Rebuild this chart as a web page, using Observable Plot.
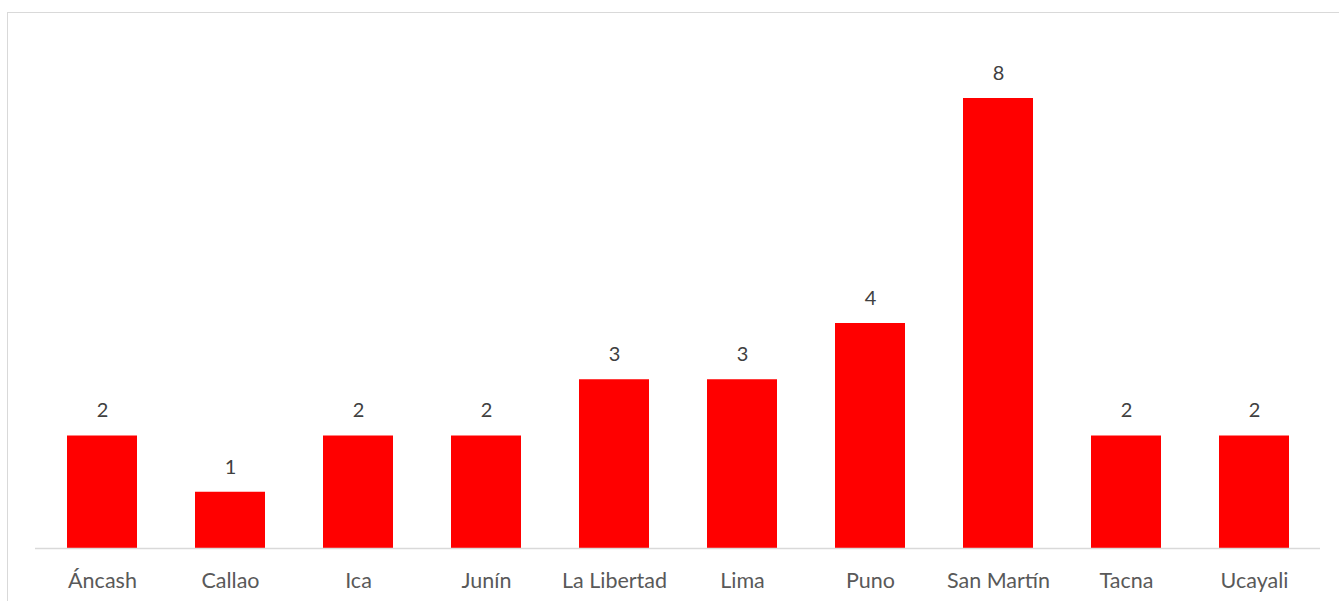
<!DOCTYPE html>
<html>
<head>
<meta charset="utf-8">
<script src="https://cdn.jsdelivr.net/npm/d3@7"></script>
<script src="https://cdn.jsdelivr.net/npm/@observablehq/plot@0.6"></script>
<style>
  html, body { margin: 0; padding: 0; background: #fff; overflow: hidden; }
  #wrap { position: relative; width: 1339px; height: 601px; }
  #frame { position: absolute; left: 7px; top: 12px; width: 1400px; height: 700px; border: 1.5px solid #d9d9d9; box-sizing: border-box; }
  #chart { position: absolute; left: 0; top: 0; }
</style>
</head>
<body>
<div id="wrap"><div id="frame"></div><div id="chart"></div></div>
<script>
const regions = ["Áncash", "Callao", "Ica", "Junín", "La Libertad", "Lima", "Puno", "San Martín", "Tacna", "Ucayali"];
const counts = [2, 1, 2, 2, 3, 3, 4, 8, 2, 2];

const data = regions.map((r, i) => ({region: r, value: counts[i]}));
const font = "Lato, 'Open Sans', sans-serif";

const chart = Plot.plot({
  width: 1339,
  height: 601,
  marginTop: 98,
  marginBottom: 53,
  marginLeft: 35,
  marginRight: 19,
  style: {background: "transparent", fontFamily: font},
  x: {domain: regions, paddingInner: 0.455, paddingOuter: 0.2275, label: null},
  y: {domain: [0, 8], axis: null},
  marks: [
    Plot.barY(data, {x: "region", y: "value", fill: "#ff0000"}),
    Plot.ruleY([0], {stroke: "#d9d9d9", strokeWidth: 1.5}),
    Plot.text(data, {x: "region", y: "value", text: d => String(d.value), dy: -25, fill: "#404040", fontSize: 20, fontFamily: font}),
    Plot.axisX({tickSize: 0, tickPadding: 0, dy: 24, fontSize: 21.5, fill: "#595959", fontFamily: font, label: null})
  ]
});
document.getElementById("chart").appendChild(chart);
</script>
</body>
</html>
